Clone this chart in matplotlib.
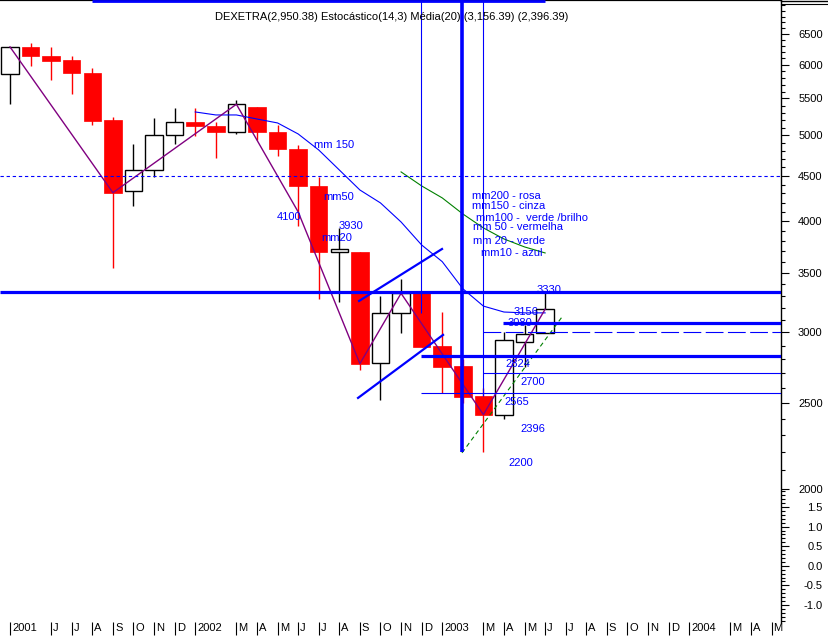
import numpy as np
import matplotlib
matplotlib.use('Agg')
import matplotlib.pyplot as plt
from matplotlib.ticker import FixedLocator, NullFormatter, FuncFormatter
from matplotlib.lines import Line2D

plt.rcParams['font.family'] = ['Liberation Sans', 'DejaVu Sans']

# ---------------- data (monthly candles, Apr 2001 .. Jun 2003) ----------------
month_idx = list(range(27))
opens  = [5860, 6286, 6141, 6077, 5876, 5203, 4325, 4566, 5000, 5176, 5122, 5039, 5381, 5043,
          4829, 4385, 3698, 3693, 2770, 3153, 3325, 2896, 2749, 2545, 2425, 2929, 2994]
highs  = [6290, 6346, 6286, 6141, 5948, 5238, 4888, 5229, 5367, 5371, 5171, 5479, 5381, 5131,
          4870, 4491, 3930, 3693, 3297, 3443, 3325, 3164, 2800, 2600, 3004, 3060, 3330]
lows   = [5422, 5988, 5770, 5569, 5136, 3548, 4166, 4491, 4885, 4991, 4718, 5020, 4944, 4739,
          3953, 3274, 3247, 2722, 2518, 2994, 2892, 2563, 2500, 2200, 2400, 2746, 2994]
closes = [6286, 6145, 6066, 5880, 5193, 4309, 4566, 5000, 5171, 5122, 5047, 5418, 5047, 4829,
          4388, 3698, 3722, 2767, 3153, 3320, 2892, 2746, 2540, 2425, 2940, 2986, 3186]

xtick_pos = [0, 2, 3, 4, 5, 6, 7, 8, 9, 11, 12, 13, 14, 15, 16, 17, 18, 19, 20, 21,
             23, 24, 25, 26, 27, 28, 29, 30, 31, 32, 33, 35, 36, 37]
xtick_lbl = ['2001', 'J', 'J', 'A', 'S', 'O', 'N', 'D', '2002', 'M', 'A', 'M', 'J', 'J', 'A',
             'S', 'O', 'N', 'D', '2003', 'M', 'A', 'M', 'J', 'J', 'A', 'S', 'O', 'N', 'D',
             '2004', 'M', 'A', 'M']

price_ticks = [2000, 2500, 3000, 3500, 4000, 4500, 5000, 5500, 6000, 6500]
osc_ticks = [-1.0, -0.5, 0.0, 0.5, 1.0, 1.5]

zigzag_idx = [0, 5, 11, 14, 17, 19, 23, 26]
zigzag_val = [6286, 4309, 5418, 4100, 2767, 3320, 2425, 3186]

ma_blue_idx = list(range(9, 27))
ma_blue_val = [5311, 5270, 5270, 5215, 5162, 5017, 4813, 4570, 4339, 4196, 3994, 3763,
               3604, 3360, 3212, 3163, 3156, 3156]

ma_green_idx = list(range(19, 27))
ma_green_val = [4547, 4385, 4251, 4078, 3933, 3822, 3744, 3686]

chan_up_idx = [16.96, 20.99]
chan_up_val = [3255, 3724]
chan_lo_idx = [16.91, 21.04]
chan_lo_val = [2532, 2981]
green_trend_idx = [21.96, 26.82]
green_trend_val = [2196, 3123]

# horizontal levels: (price, start index)
thick_levels = [(3330, -0.5), (3075, 23.96), (2824, 19.97)]
thin_levels = [(2700, 22.98), (2565, 19.97)]
dashed_level_full = 4500
dashed_level_part = (3000, 22.98)
# vertical markers: (index, lower price, linewidth)
vmarks = [(19.97, 3155, 0.8), (21.96, 2200, 2.6), (22.98, 2545, 0.8)]

BLUE = '#0000ff'
RED = '#ff0000'
PURPLE = '#800080'
GREEN = '#008000'

W, H = 829, 636
fig = plt.figure(figsize=(W / 100, H / 100), dpi=100)
fig.patch.set_facecolor('white')

AX_RIGHT = 781
AX_BOTTOM = 622
ax = fig.add_axes([0, (H - AX_BOTTOM) / H, AX_RIGHT / W, AX_BOTTOM / H])
ax.set_yscale('log')
ax.set_xlim(-0.486, 37.46)
ax.set_ylim(1417, 7098)

# candles
o = np.array(opens, float); c = np.array(closes, float)
hi = np.array(highs, float); lo = np.array(lows, float)
x = np.array(month_idx, float)
up = c >= o
for i in range(len(x)):
    col = 'black' if up[i] else RED
    ax.vlines(x[i], lo[i], hi[i], color=col, lw=1.0, zorder=2)
bw = 0.85
ax.bar(x[up], (c - o)[up], bottom=o[up], width=bw, facecolor='white', edgecolor='black',
       linewidth=1.0, zorder=2.2)
ax.bar(x[~up], (o - c)[~up], bottom=c[~up], width=bw, facecolor=RED, edgecolor=RED,
       linewidth=0.5, zorder=2.2)

# moving averages / indicators
ax.plot(ma_blue_idx, ma_blue_val, color=BLUE, lw=0.8, zorder=3)
ax.plot(ma_green_idx, ma_green_val, color=GREEN, lw=0.8, zorder=3)
ax.plot(zigzag_idx, zigzag_val, color=PURPLE, lw=1.0, zorder=3.1)
ax.plot(green_trend_idx, green_trend_val, color=GREEN, lw=0.8, ls=(0, (4, 3)), zorder=3.1)

# channel lines
ax.plot(chan_up_idx, chan_up_val, color=BLUE, lw=1.6, zorder=4)
ax.plot(chan_lo_idx, chan_lo_val, color=BLUE, lw=1.6, zorder=4)

xmax = 37.46
ax.hlines(dashed_level_full, -0.5, xmax, color=BLUE, lw=0.8, ls=(0, (3, 2.5)), zorder=4)
ax.hlines(dashed_level_part[0], dashed_level_part[1], xmax, color=BLUE, lw=0.8,
          ls=(0, (16, 4)), zorder=4)
for p, s in thick_levels:
    ax.hlines(p, s, xmax, color=BLUE, lw=2.3, zorder=4)
for p, s in thin_levels:
    ax.hlines(p, s, xmax, color=BLUE, lw=0.8, zorder=4)
for xi, pl, lw in vmarks:
    ax.vlines(xi, pl, 7098, color=BLUE, lw=lw, zorder=4)
ax.hlines(7075, 4.0, 26.0, color=BLUE, lw=2.0, zorder=4)

# spines & ticks
for s in ['left', 'bottom']:
    ax.spines[s].set_visible(False)
ax.spines['top'].set_linewidth(1.6)
ax.spines['right'].set_linewidth(1.0)
ax.yaxis.tick_right()
ax.yaxis.set_major_locator(FixedLocator(price_ticks))
ax.yaxis.set_major_formatter(FuncFormatter(lambda v, p: f"{int(round(v))}"))
ax.yaxis.set_minor_locator(FixedLocator(list(range(2100, 7100, 100))))
ax.yaxis.set_minor_formatter(NullFormatter())
ax.tick_params(axis='y', which='major', direction='out', length=6, width=0.8,
               labelsize=8, pad=24)
ax.tick_params(axis='y', which='minor', direction='out', length=3, width=0.8)
for t in ax.get_yticklabels():
    t.set_horizontalalignment('right')

ax.set_xticks(xtick_pos)
ax.set_xticklabels([''] * len(xtick_pos))
ax.tick_params(axis='x', which='major', direction='out', length=9.5, width=0.8, pad=0)
for xp, lb in zip(xtick_pos, xtick_lbl):
    ax.annotate(lb, xy=(xp, 0), xycoords=('data', 'axes fraction'), xytext=(1.5, -1.0),
                textcoords='offset points', ha='left', va='top', fontsize=8,
                annotation_clip=False)

# oscillator pane axis
osc_top_px, osc_bot_px = 490, 622
ax2 = fig.add_axes([0, (H - osc_bot_px) / H, AX_RIGHT / W, (osc_bot_px - osc_top_px) / H])
ax2.patch.set_visible(False)
for s in ax2.spines.values():
    s.set_visible(False)
ax2.set_ylim(-1.434, 1.934)
ax2.set_xticks([])
ax2.yaxis.tick_right()
ax2.yaxis.set_major_locator(FixedLocator(osc_ticks))
ax2.yaxis.set_major_formatter(FuncFormatter(lambda v, p: f"{v:.1f}"))
ax2.yaxis.set_minor_locator(FixedLocator(list(np.round(np.arange(-1.4, 1.95, 0.1), 2))))
ax2.yaxis.set_minor_formatter(NullFormatter())
ax2.tick_params(axis='y', which='major', direction='out', length=6, width=0.8,
                labelsize=8, pad=24)
ax2.tick_params(axis='y', which='minor', direction='out', length=3, width=0.8)
for t in ax2.get_yticklabels():
    t.set_horizontalalignment('right')


# ---------------- annotations (pixel placed) ----------------
def fpos(px, py):
    return px / W, 1 - py / H

labels = [
    ("mm 150", 314, 145), ("mm50", 323, 197), ("4100", 277, 217), ("3930", 339, 226),
    ("mm20", 321, 238), ("mm200 - rosa", 472, 196), ("mm150 - cinza", 472, 206),
    ("mm100 -  verde /brilho", 476, 218), ("mm 50 - vermelha", 473, 227),
    ("mm 20 - verde", 473, 241), ("mm10 - azul", 481, 253), ("3330", 537, 290),
    ("3156", 514, 312), ("3080", 508, 323), ("2824", 505, 364), ("2700", 520, 382),
    ("2565", 504, 402), ("2396", 520, 429), ("2200", 508, 463),
]
for txt, px, py in labels:
    fx, fy = fpos(px, py)
    t = fig.text(fx, fy, txt, color=BLUE, fontsize=8, ha='left', va='center', zorder=1)

title = "DEXETRA(2,950.38) Estocástico(14,3) Média(20) (3,156.39) (2,396.39)"
fx, fy = fpos(215, 17)
fig.text(fx, fy, title, color='black', fontsize=8, ha='left', va='center')

fig.add_artist(Line2D([AX_RIGHT / W, 1], [1 - 1 / H, 1 - 1 / H], color='black', lw=1.0,
                      transform=fig.transFigure))
fig.add_artist(Line2D([AX_RIGHT / W, 1], [1 - 4 / H, 1 - 4 / H], color='black', lw=0.8,
                      transform=fig.transFigure))

fig.savefig('out.png', dpi=100, facecolor='white')
